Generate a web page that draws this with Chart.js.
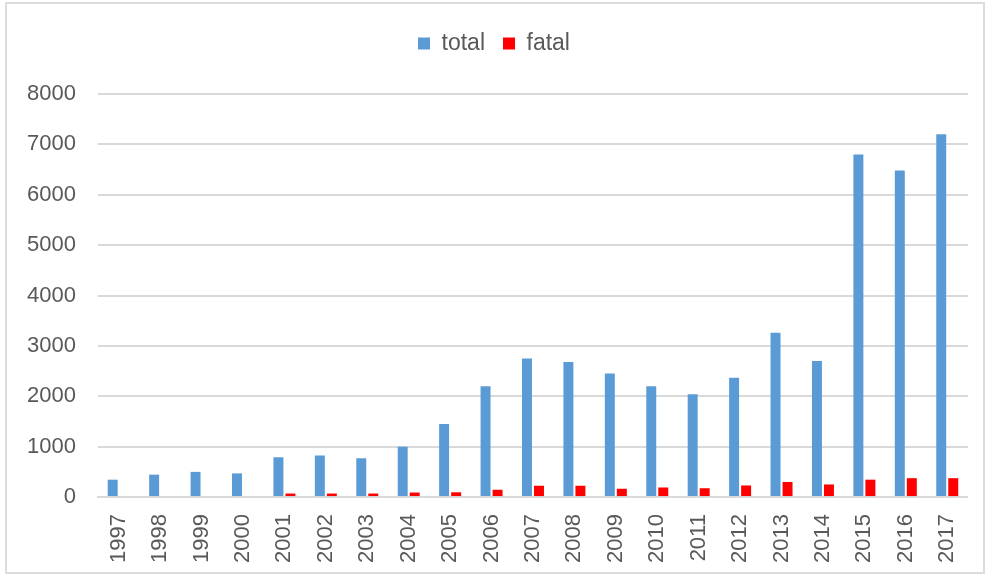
<!DOCTYPE html>
<html>
<head>
<meta charset="utf-8">
<script src="https://cdn.jsdelivr.net/npm/chart.js@4"></script>
<style>
    html, body { margin: 0; padding: 0; background: #ffffff; }
    #wrap {
        position: absolute;
        left: 5px; top: 2px;
        width: 980px; height: 572px;
        border: 2px solid #dcdcdc;
        box-sizing: border-box;
    }
    canvas { display: block; }
</style>
</head>
<body>
<div id="wrap"><canvas id="accidentChart" width="976" height="568"></canvas></div>
<script>
// Yearly counts
const years = ['1997', '1998', '1999', '2000', '2001', '2002', '2003', '2004', '2005', '2006', '2007',
    '2008', '2009', '2010', '2011', '2012', '2013', '2014', '2015', '2016', '2017'];
const totalCounts = [345, 445, 500, 470, 790, 825, 770, 1000, 1450, 2200, 2750,
    2680, 2450, 2200, 2040, 2370, 3260, 2700, 6800, 6480, 7200];
const fatalCounts = [0, 0, 0, 0, 70, 70, 70, 90, 95, 145, 225,
    225, 165, 190, 175, 230, 300, 250, 345, 375, 375];
const yTicks = [0, 1000, 2000, 3000, 4000, 5000, 6000, 7000, 8000];

const textColor = '#595959';
const gridColor = '#d9d9d9';
const labelFont = { family: 'Liberation Sans', size: 22 };
const legendFont = { family: 'Liberation Sans', size: 23 };

// extra room under the legend
const legendSpacer = {
    id: 'legendSpacer',
    beforeInit(chart) {
        const origFit = chart.legend.fit;
        chart.legend.fit = function() {
            origFit.bind(chart.legend)();
            this.height += 29;
        };
    }
};

const ctx = document.getElementById('accidentChart');
const accidentChart = new Chart(ctx, {
    type: 'bar',
    data: {
        labels: years,
        datasets: [
            {
                label: 'total',
                data: totalCounts,
                backgroundColor: '#5b9bd5',
                categoryPercentage: 0.58,
                barPercentage: 0.83
            },
            {
                label: 'fatal',
                data: fatalCounts,
                backgroundColor: '#ff0000',
                categoryPercentage: 0.58,
                barPercentage: 0.83
            }
        ]
    },
    plugins: [legendSpacer],
    options: {
        responsive: false,
        animation: false,
        layout: {
            padding: { left: 13, right: 15, top: 10, bottom: 0 }
        },
        plugins: {
            legend: {
                display: true,
                position: 'top',
                labels: {
                    color: textColor,
                    font: legendFont,
                    boxWidth: 12,
                    boxHeight: 12,
                    padding: 18
                }
            },
            tooltip: { enabled: false }
        },
        scales: {
            x: {
                grid: { display: false },
                border: { color: gridColor, width: 2 },
                ticks: {
                    color: textColor,
                    font: labelFont,
                    minRotation: 90,
                    maxRotation: 90,
                    padding: 9
                }
            },
            y: {
                min: 0,
                max: 8000,
                afterBuildTicks: function(axis) {
                    axis.ticks = yTicks.map(v => ({ value: v }));
                },
                afterFit: function(axis) {
                    axis.width = 78;
                },
                grid: { color: gridColor, lineWidth: 2, drawTicks: false },
                border: { display: false },
                ticks: {
                    color: textColor,
                    font: labelFont,
                    padding: 22,
                    callback: function(value) { return String(value); }
                }
            }
        }
    }
});
</script>
</body>
</html>
